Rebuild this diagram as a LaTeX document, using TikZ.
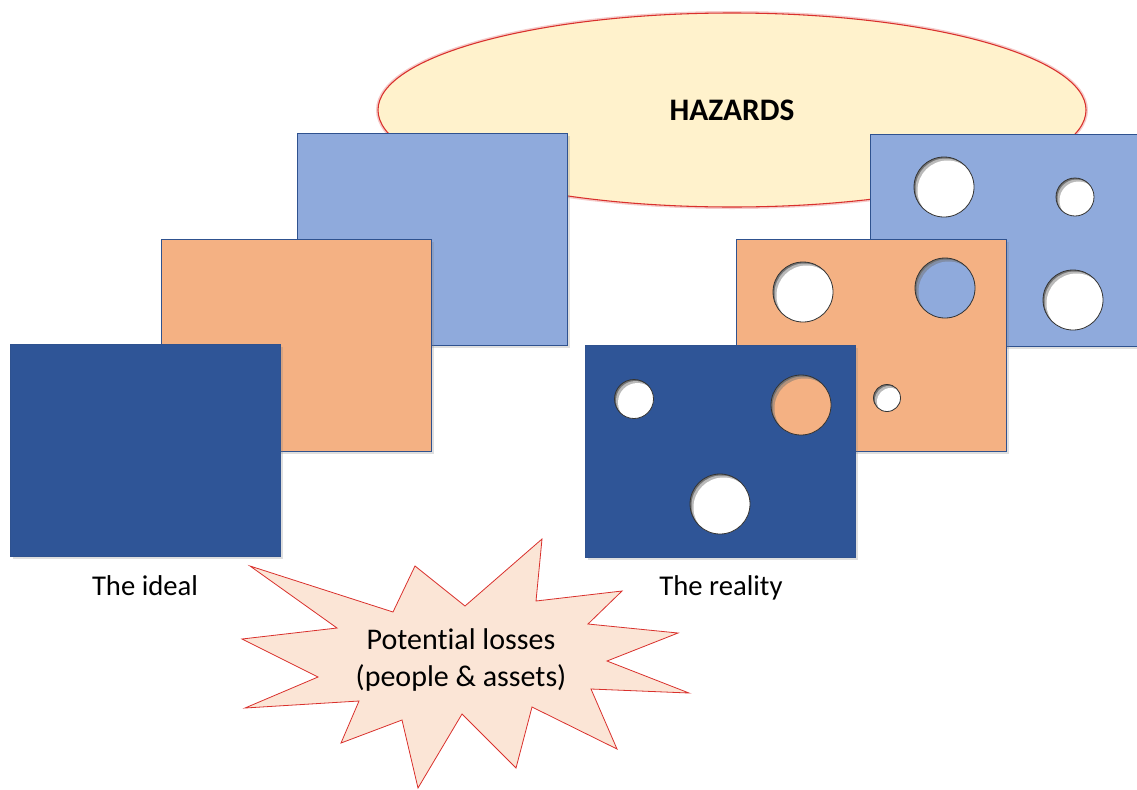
\documentclass[tikz,border=0pt]{standalone}
\usepackage{fontspec}
\setmainfont{Carlito}[Ligatures=NoCommon]
\usetikzlibrary{shapes.geometric,shadows}
\definecolor{paleblue}{HTML}{8FAADC}
\definecolor{peach}{HTML}{F4B183}
\definecolor{deepblue}{HTML}{2F5597}
\definecolor{sheetedge}{HTML}{2F528F}
\definecolor{cream}{HTML}{FFF2CC}
\definecolor{blush}{HTML}{FBE5D6}
\definecolor{alarm}{HTML}{D9302C}
\begin{document}
\begin{tikzpicture}[x=0.75pt, y=-0.75pt,
	sheet/.style={rectangle, draw=sheetedge, line width=0.5pt, inner sep=0pt, minimum width=202.5pt, minimum height=159pt, drop shadow={shadow xshift=2pt, shadow yshift=-2pt, opacity=0.25}},
	caption/.style={font=\fontsize{21.5}{27.5}\selectfont, anchor=base},
	hazard/.style={ellipse, fill=cream, draw=alarm, line width=0.8pt, inner sep=0pt, minimum width=531pt, minimum height=145.5pt, preaction={draw=alarm!25, line width=3pt}, font=\fontsize{23.5}{28}\bfseries}]

	\useasboundingbox (0,0) rectangle (1137,789);

	\node[hazard] (hz) at (732,110) {HAZARDS};

	\node[sheet, fill=paleblue] (ideal3) at (432,239.5) {};
	\node[sheet, fill=peach] (ideal2) at (296.5,345) {};
	\node[sheet, fill=deepblue] (ideal1) at (145.5,450.5) {};

	\node[sheet, fill=paleblue] (real3) at (1005,240) {};
	\node[sheet, fill=peach] (real2) at (871,345) {};
	\node[sheet, fill=deepblue] (real1) at (720.5,451) {};

	\foreach \x/\y/\r/\c in {944/187/30/white, 1075/197/19/white, 1073/300/30/white,
		803/292/30/white, 945/288/30/paleblue, 887/398/13.5/white,
		634/399/19.5/white, 801/405/30/peach, 720/504/30/white}{
		\begin{scope}
			\clip (\x,\y) circle (\r);
			\fill[black!55] (\x,\y) circle (\r);
			\fill[\c, opacity=0.5] (\x+1.5,\y+1.5) circle (\r);
			\fill[\c] (\x+3.5,\y+3.5) circle (\r);
		\end{scope}
		\draw[black!80, line width=0.6pt] (\x,\y) circle (\r);
	}

	\node[caption] (ideal) at (145,595) {The ideal};
	\node[caption] (reality) at (721,595) {The reality};

	\filldraw[fill=blush, draw=alarm, line width=0.6pt]
		(250,566) -- (393,612) -- (415,566) -- (465,606) -- (542,539) -- (536,601)
		-- (622,591) -- (588,624) -- (678,633) -- (607,661) -- (689,693) -- (591,689)
		-- (617,749) -- (532,707) -- (516,768) -- (462,714) -- (418,788) -- (402,720)
		-- (341,743) -- (359,701) -- (245,708) -- (318,677) -- (242,639) -- (337,628) -- cycle;
	\node[font=\fontsize{22.5}{27.5}\selectfont, align=center] (losses) at (461,660) {Potential losses\\(people \& assets)};

\end{tikzpicture}
\end{document}
